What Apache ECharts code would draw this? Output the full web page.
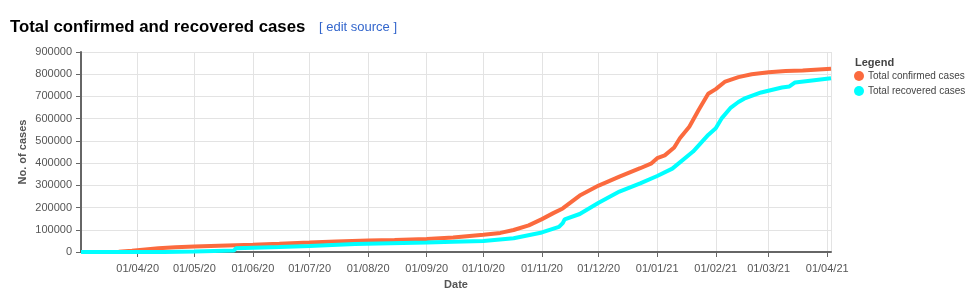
<!DOCTYPE html>
<html>
<head>
<meta charset="utf-8">
<script src="https://cdn.jsdelivr.net/npm/echarts@6/dist/echarts.min.js"></script>
<style>
html,body{margin:0;padding:0;background:#fff;}
#chart{width:974px;height:298px;}
</style>
</head>
<body>
<div id="chart"></div>
<script>
var titleText = 'Total confirmed and recovered cases';
var linkText = '[ edit source ]';
var xAxisName = 'Date';
var yAxisName = 'No. of cases';
var legendTitle = 'Legend';
var seriesNames = ['Total confirmed cases', 'Total recovered cases'];
var xMin = '2020-03-02';
var xMax = '2021-04-03';
var yTicks = [0, 100000, 200000, 300000, 400000, 500000, 600000, 700000, 800000, 900000];

var confirmedDates = ['2020-03-02','2020-03-15','2020-03-22','2020-03-29','2020-04-05','2020-04-12','2020-04-21','2020-05-01','2020-05-14','2020-06-01','2020-06-15','2020-07-01','2020-07-15','2020-08-01','2020-08-15','2020-09-01','2020-09-15','2020-10-01','2020-10-10','2020-10-17','2020-10-25','2020-11-01','2020-11-07','2020-11-12','2020-11-21','2020-12-01','2020-12-12','2020-12-23','2020-12-29','2021-01-01','2021-01-05','2021-01-10','2021-01-13','2021-01-18','2021-01-23','2021-01-28','2021-02-01','2021-02-06','2021-02-13','2021-02-20','2021-03-01','2021-03-10','2021-03-19','2021-04-03'];
var confirmedValues = [0,250,1600,6000,11300,16600,21400,25000,28300,32500,37000,42500,47500,51500,53500,58500,65000,78000,86000,99000,120000,148000,175000,196000,254000,299000,339000,377000,399000,422000,435000,470000,512000,564000,640000,712000,733000,767000,787000,800000,809000,814000,817000,825000];

var recoveredDates = ['2020-03-02','2020-04-01','2020-04-15','2020-05-01','2020-05-22','2020-05-23','2020-06-15','2020-07-01','2020-07-25','2020-09-01','2020-09-15','2020-10-01','2020-10-17','2020-11-01','2020-11-10','2020-11-12','2020-11-13','2020-11-21','2020-12-01','2020-12-12','2020-12-23','2021-01-01','2021-01-09','2021-01-20','2021-01-28','2021-02-01','2021-02-04','2021-02-09','2021-02-13','2021-02-16','2021-02-25','2021-03-08','2021-03-12','2021-03-15','2021-03-24','2021-04-03'];
var recoveredValues = [0,100,500,2000,7000,17000,23000,27500,36000,43000,46000,50000,62000,88000,113000,130000,147000,171000,222000,272000,309000,342000,375000,452000,527000,557000,600000,650000,675000,690000,718000,740000,745000,763000,772000,782000];

var colors = ['#fb6a3e', '#00ffff'];
var FONT = "'Liberation Sans', Arial, sans-serif";

function pairs(d, v) { return d.map(function (x, i) { return [x, v[i]]; }); }
function fmt(val) {
  var d = new Date(val);
  var dd = ('0' + d.getDate()).slice(-2);
  var mm = ('0' + (d.getMonth() + 1)).slice(-2);
  var yy = ('' + d.getFullYear()).slice(-2);
  return dd + '/' + mm + '/' + yy;
}

var chart = echarts.init(document.getElementById('chart'), null, {renderer: 'canvas'});
chart.setOption({
  animation: false,
  backgroundColor: '#fff',
  textStyle: {fontFamily: FONT},
  title: [
    {text: titleText, left: 10, top: 19, padding: 0, textStyle: {fontFamily: FONT, fontSize: 16.8, fontWeight: 'bold', color: '#000'}},
    {text: linkText, left: 319, top: 21, padding: 0, textStyle: {fontFamily: FONT, fontSize: 13, fontWeight: 'normal', color: '#3366cc'}},
    {text: legendTitle, left: 855, top: 57, padding: 0, textStyle: {fontFamily: FONT, fontSize: 11, fontWeight: 'bold', color: '#444'}}
  ],
  legend: {
    orient: 'vertical', left: 854, top: 71, itemGap: 5, padding: 0,
    icon: 'circle', itemWidth: 10, itemHeight: 10,
    textStyle: {fontFamily: FONT, fontSize: 10, color: '#444', padding: [0, 0, 0, -1]},
    data: seriesNames
  },
  grid: {left: 81, right: 143, top: 52, bottom: 46, containLabel: false},
  xAxis: {
    type: 'time', min: xMin, max: xMax, splitNumber: 13,
    name: xAxisName, nameLocation: 'middle', nameGap: 27, nameMoveOverlap: false,
    nameTextStyle: {fontFamily: FONT, fontSize: 11, fontWeight: 'bold', color: '#555'},
    axisLine: {show: true, lineStyle: {color: '#666', width: 2}},
    axisTick: {show: true, length: 5, lineStyle: {color: '#666', width: 1}},
    minorTick: {show: false},
    axisLabel: {formatter: fmt, fontFamily: FONT, fontSize: 11, color: '#555', margin: 11, showMinLabel: false, showMaxLabel: false},
    splitLine: {show: true, lineStyle: {color: '#e3e3e3', width: 1}}
  },
  yAxis: {
    type: 'value', min: yTicks[0], max: yTicks[yTicks.length - 1], interval: yTicks[1] - yTicks[0],
    name: yAxisName, nameLocation: 'middle', nameGap: 53, nameRotate: 90, nameMoveOverlap: false,
    nameTextStyle: {fontFamily: FONT, fontSize: 11, fontWeight: 'bold', color: '#555'},
    axisLine: {show: true, lineStyle: {color: '#666', width: 2}},
    axisTick: {show: true, length: 5, lineStyle: {color: '#666', width: 1}},
    axisLabel: {formatter: function (v) { return String(v); }, fontFamily: FONT, fontSize: 11, color: '#555', margin: 9},
    splitLine: {show: true, lineStyle: {color: '#e3e3e3', width: 1}}
  },
  series: [
    {name: seriesNames[0], type: 'line', data: pairs(confirmedDates, confirmedValues), showSymbol: false, symbol: 'circle', color: colors[0], lineStyle: {width: 4, color: colors[0]}, z: 2},
    {name: seriesNames[1], type: 'line', data: pairs(recoveredDates, recoveredValues), showSymbol: false, symbol: 'circle', color: colors[1], lineStyle: {width: 4, color: colors[1]}, z: 3}
  ]
});
</script>
</body>
</html>
